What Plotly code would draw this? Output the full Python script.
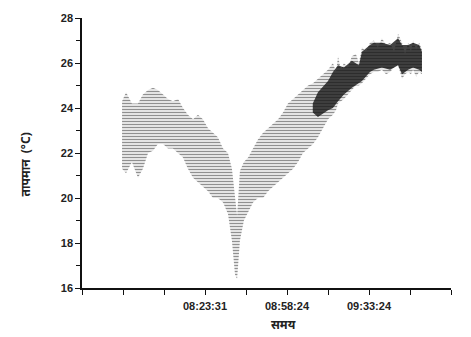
import plotly.graph_objects as go

# time in minutes relative to 08:23:31
t_env = [-35.4, -33.7, -31.2, -28.6, -26.5, -24.3, -22.2, -20.1, -17.9, -15.8,
         -13.7, -11.5, -9.4, -7.3, -5.1, -3.0, -0.9, 1.3, 3.4, 5.5,
         7.7, 9.8, 11.5, 12.8, 13.7, 14.9, 16.6, 18.4, 20.5, 22.6,
         24.8, 26.9, 29.0, 31.2, 33.3, 35.4, 37.6, 39.7, 41.8, 44.0,
         46.1, 48.2, 50.4, 52.5, 54.6, 55.9, 56.8, 58.0, 59.3, 61.0,
         62.7, 64.4, 65.7, 67.0, 68.7, 70.4, 72.1, 73.8, 75.5, 77.3,
         79.0, 80.7, 82.4, 84.1, 85.4, 86.7, 87.9, 88.8, 90.1, 91.4,
         92.6]
temp_high = [24.3, 24.7, 24.2, 24.2, 24.6, 24.8, 24.9, 24.8, 24.6, 24.4,
             24.3, 24.4, 24.0, 23.7, 23.5, 23.7, 23.5, 23.1, 22.9, 22.7,
             22.2, 22.0, 21.3, 20.0, 19.2, 21.2, 21.6, 21.8, 22.2, 22.6,
             22.9, 23.1, 23.3, 23.5, 23.8, 24.2, 24.4, 24.6, 24.8, 25.0,
             25.1, 25.3, 25.5, 25.7, 26.0, 25.6, 26.3, 25.7, 26.0, 25.8,
             26.3, 26.4, 26.0, 26.7, 26.5, 26.9, 27.0, 26.7, 27.1, 26.8,
             26.9, 26.5, 27.3, 26.9, 26.4, 26.9, 26.5, 27.0, 26.6, 26.9,
             26.6]
temp_low = [21.3, 21.1, 21.6, 20.9, 21.3, 22.0, 22.1, 22.4, 22.4, 22.2,
            22.2, 22.0, 21.8, 21.3, 20.9, 20.7, 20.5, 20.3, 20.0, 20.0,
            19.8, 19.3, 18.1, 16.6, 16.4, 18.1, 19.0, 19.4, 19.8, 20.0,
            20.0, 20.3, 20.5, 20.7, 20.9, 21.1, 21.3, 21.6, 22.0, 22.2,
            22.4, 22.7, 23.1, 23.5, 23.7, 23.9, 24.2, 24.3, 24.4, 24.6,
            24.8, 25.0, 25.0, 25.1, 25.3, 25.5, 25.6, 25.6, 25.7, 25.5,
            25.6, 25.8, 25.9, 25.3, 25.5, 25.6, 25.5, 25.7, 25.4, 25.6,
            25.5]

# denser core of readings
t_core = [46.0, 48.2, 52.5, 54.6, 56.8, 59.3, 62.7, 65.7, 67.0, 70.4,
          72.1, 75.5, 79.0, 82.4, 84.1, 86.7, 88.8, 91.4, 92.6]
core_high = [24.2, 24.7, 25.2, 25.6, 25.9, 25.8, 26.1, 25.9, 26.5, 26.8,
             26.9, 26.9, 26.8, 27.1, 26.8, 26.8, 26.9, 26.8, 26.5]
core_low = [23.8, 23.6, 23.9, 24.0, 24.3, 24.6, 24.9, 25.1, 25.2, 25.6,
            25.7, 25.8, 25.7, 25.9, 25.5, 25.7, 25.8, 25.7, 25.6]

x_tickvals = [-52.5, -35, -17.5, 0, 17.5, 35, 52.5, 70, 87.5, 105]
x_ticktext = ["", "", "", "08:23:31", "", "08:58:24", "", "09:33:24", "", ""]
y_tickvals = [16, 18, 20, 22, 24, 26, 28]

fig = go.Figure()
fig.add_trace(go.Scatter(x=t_env, y=temp_high, mode="lines",
                         line=dict(width=0, color="rgba(0,0,0,0)"), showlegend=False, hoverinfo="skip"))
fig.add_trace(go.Scatter(x=t_env, y=temp_low, mode="lines", fill="tonexty",
                         line=dict(width=0, color="rgba(0,0,0,0)"),
                         fillcolor="rgba(0,0,0,0)",
                         fillpattern=dict(shape="-", fgcolor="#222", bgcolor="rgba(0,0,0,0)",
                                          size=3, solidity=0.5),
                         showlegend=False))
fig.add_trace(go.Scatter(x=t_core, y=core_high, mode="lines",
                         line=dict(width=0, color="rgba(0,0,0,0)"), showlegend=False, hoverinfo="skip"))
fig.add_trace(go.Scatter(x=t_core, y=core_low, mode="lines", fill="tonexty",
                         line=dict(width=0, color="rgba(0,0,0,0)"),
                         fillcolor="rgba(0,0,0,0)",
                         fillpattern=dict(shape="|", fgcolor="#000", bgcolor="rgba(30,30,30,0.7)",
                                          size=2, solidity=0.6),
                         showlegend=False))

font_ticks = dict(family="Liberation Sans, Arial, sans-serif", size=11, color="#222", weight="bold")

fig.update_layout(
    width=471, height=337,
    margin=dict(l=82, r=20, t=13, b=49),
    paper_bgcolor="white", plot_bgcolor="white",
    showlegend=False,
    xaxis=dict(range=[-52.5, 105], tickmode="array", tickvals=x_tickvals, ticktext=x_ticktext,
               ticks="outside", ticklen=5, tickwidth=1.2, tickcolor="#111",
               showline=True, linecolor="#111", linewidth=1.5,
               showgrid=False, zeroline=False, tickfont=font_ticks, ticklabelstandoff=2),
    yaxis=dict(range=[16, 28], tickmode="array", tickvals=y_tickvals,
               ticks="outside", ticklen=5, tickwidth=1.2, tickcolor="#111",
               minor=dict(tickvals=[17, 19, 21, 23, 25, 27], ticks="outside", ticklen=4, tickcolor="#111"),
               showline=True, linecolor="#111", linewidth=1.5,
               showgrid=False, zeroline=False, tickfont=font_ticks),
    annotations=[
        dict(text="समय", xref="paper", yref="paper", x=0.547, y=-0.135,
             xanchor="center", yanchor="middle", showarrow=False,
             font=dict(family="Noto Sans, sans-serif", size=12, color="#222", weight="bold")),
        dict(text="तापमान  (°C)", xref="paper", yref="paper", x=-0.154, y=0.458,
             xanchor="center", yanchor="middle", textangle=-90, showarrow=False,
             font=dict(family="Noto Sans, sans-serif", size=12, color="#222", weight="bold")),
    ],
)

fig.write_html("out.html")
